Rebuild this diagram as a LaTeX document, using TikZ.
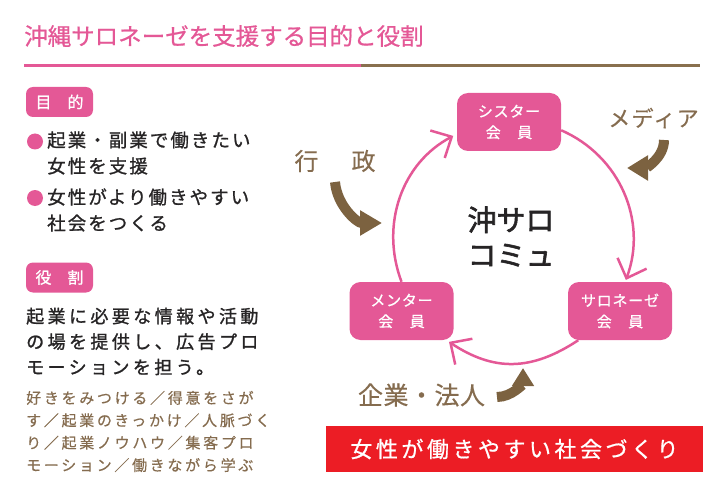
\documentclass[tikz,border=0pt]{standalone}
\usepackage{fontspec}
\setmainfont{Noto Sans CJK JP}
\usetikzlibrary{arrows.meta}
\definecolor{salpink}{RGB}{228,88,150}
\definecolor{salbrown}{RGB}{124,98,64}
\definecolor{saltext}{RGB}{133,108,79}
\definecolor{salline}{RGB}{137,112,78}
\definecolor{salred}{RGB}{236,29,37}
\definecolor{salink}{RGB}{38,36,37}
\def\setfs#1#2#3#4{\fontsize{#1}{#2}\selectfont\addfontfeature{LetterSpace=#3,FakeBold=#4}}
\tikzset{
	member/.style={fill=salpink, rounded corners=11pt, minimum width=104pt, minimum height=58pt, inner sep=0pt, text=white, align=center, font=\setfs{15}{21}{5}{0.8}},
	tagbox/.style={fill=salpink, rounded corners=7pt, minimum width=67pt, minimum height=30pt, inner sep=0pt, text=white, font=\setfs{16}{16}{0}{0.8}},
	cyclearrow/.style={salpink, line width=2.5pt, -{Straight Barb[length=16pt,width=31pt]}},
	pusharrow/.style={salbrown, line width=10pt},
	agent/.style={text=saltext, inner sep=0pt},
}

\begin{document}
\begin{tikzpicture}[x=1pt,y=1pt]
	%%%%% START %%%%%
	\useasboundingbox (0,0) rectangle (720,499);
	
	\node[anchor=west, inner sep=0pt, text=salpink, font=\setfs{23.5}{23.5}{0}{0.7}] (title) at (24,463) {沖縄サロネーゼを支援する目的と役割};
	\draw[salpink, line width=3pt] (24,433.3) -- (361,433.3);
	\draw[salline, line width=3pt] (361,433.3) -- (700,433.3);
	
	\node[tagbox] (aim) at (59.5,397) {目　的};
	\fill[salpink] (35,357.5) circle (8);
	\node[anchor=west, inner sep=0pt, align=left, text=salink, font=\setfs{18.5}{26}{11}{1}] (aimone) at (47,346) {起業・副業で働きたい\\女性を支援};
	\fill[salpink] (35,301) circle (8);
	\node[anchor=west, inner sep=0pt, align=left, text=salink, font=\setfs{18.5}{26}{11}{1}] (aimtwo) at (47,289) {女性がより働きやすい\\社会をつくる};
	
	\node[tagbox] (role) at (59.5,221.5) {役　割};
	\node[anchor=west, inner sep=0pt, align=left, text=salink, font=\setfs{18}{25.5}{19}{1.2}] (roletext) at (26,157.5) {起業に必要な情報や活動\\の場を提供し、広告プロ\\モーションを担う。};
	\node[anchor=west, inner sep=0pt, align=left, text=saltext, font=\setfs{15}{22.4}{18}{0.4}] (roleitems) at (26,67.5) {好きをみつける／得意をさが\\す／起業のきっかけ／人脈づく\\り／起業ノウハウ／集客プロ\\モーション／働きながら学ぶ};
	
	%%%%% CYCLE %%%%%
	\node[member] (sister) at (509,377) {シスター\\会　員};
	\node[member] (mentor) at (401.5,188) {メンター\\会　員};
	\node[member] (salonese) at (620,188) {サロネーゼ\\会　員};
	\node[text=salink, align=center, font=\setfs{29}{35}{0}{2}] (hub) at (511,262.5) {沖サロ\\コミュ};
	
	\draw[cyclearrow, shorten >=4pt] (mentor.north) to[out=110.6, in=207.8] (sister.193);
	\draw[cyclearrow, shorten >=2pt] (sister.-9) to[out=-23.6, in=69.5] (salonese.80);
	\draw[cyclearrow, shorten >=3pt, looseness=1.1] (salonese.215) to[out=213.5, in=326.5] (mentor.-33);
	
	%%%%% SUPPORT %%%%%
	\node[agent, font=\setfs{24}{24}{19}{0.3}] (gov) at (335,338) {行　政};
	\node[agent, font=\setfs{22}{22}{6}{0.3}] (media) at (653.5,381) {メディア};
	\node[agent, font=\setfs{25}{25}{2}{0.3}] (firms) at (421.5,104) {企業・法人};
	
	\coordinate (govfrom) at (335,317);
	\coordinate (govto) at (382,276);
	\draw[pusharrow, -{Triangle[length=22pt,width=24pt]}] (govfrom) to[out=-85, in=180] (govto);
	\coordinate (mediafrom) at (664,359);
	\coordinate (mediato) at (627,331);
	\draw[pusharrow, -{Triangle[length=21pt,width=24pt]}] (mediafrom) to[out=-90, in=0] (mediato);
	\coordinate (firmsfrom) at (497,102);
	\coordinate (firmsto) at (523,131);
	\draw[pusharrow, -{Triangle[length=18pt,width=21pt]}] (firmsfrom) to[out=0, in=-90] (firmsto);
	
	\node[fill=salred, minimum width=377pt, minimum height=46pt, text=white, font=\setfs{22}{22}{16}{0.8}] (goal) at (514.5,50) {女性が働きやすい社会づくり};
	
	%%%%% END %%%%%
\end{tikzpicture}
\end{document}
